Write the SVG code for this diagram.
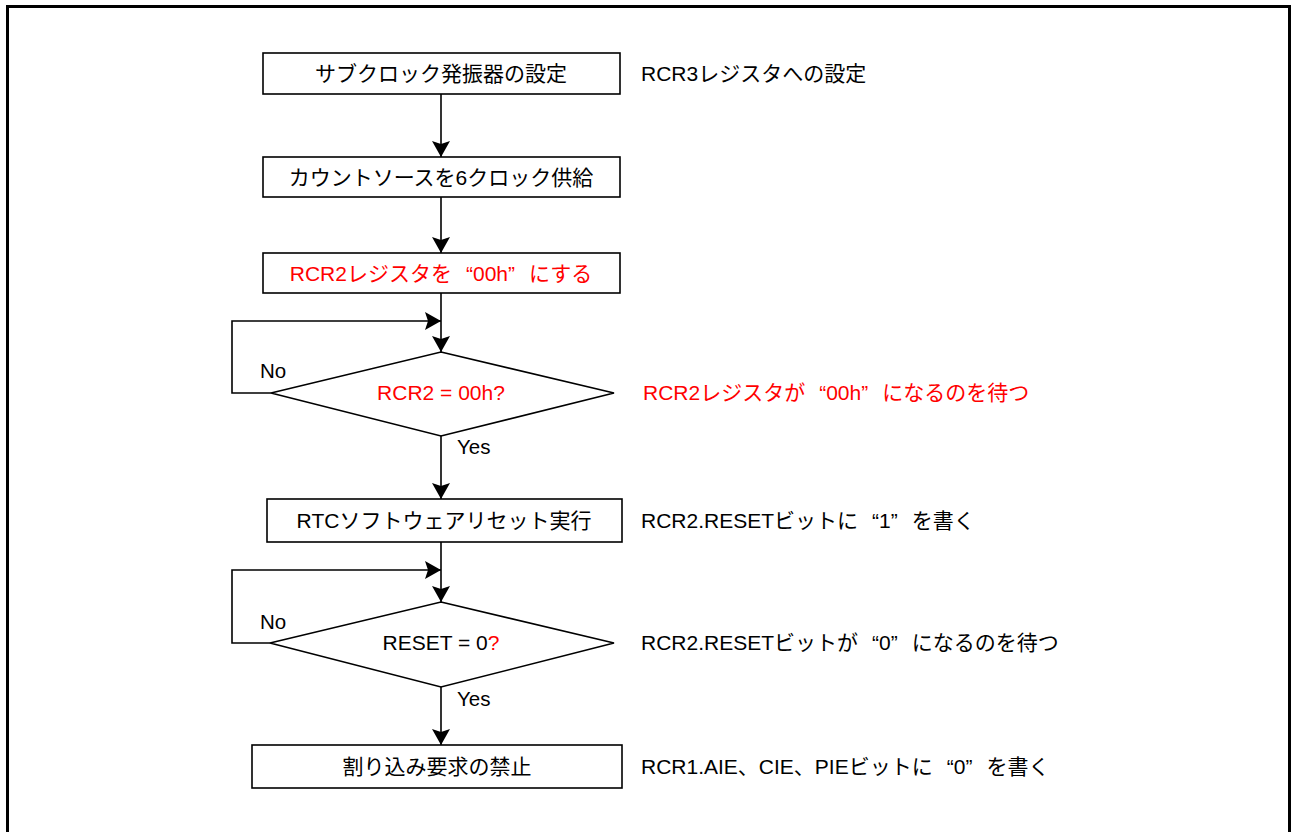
<svg xmlns="http://www.w3.org/2000/svg" width="1293" height="832" viewBox="0 0 1293 832">
<style>
text{font-family:"Liberation Sans","Noto Sans CJK JP",sans-serif;font-size:21px;fill:#000}
.c{text-anchor:middle}
.r{fill:#ff0000}
.box{fill:#fff;stroke:#000;stroke-width:1.6}
.ln{fill:none;stroke:#000;stroke-width:1.6}
.lbl{font-size:20.5px}
</style>
<defs>
<marker id="ah" viewBox="0 0 16 18" refX="16" refY="9" markerWidth="16" markerHeight="18" markerUnits="userSpaceOnUse" orient="auto">
<path d="M0,0 L16,9 L0,18 L3,9 Z" fill="#000"/>
</marker>
</defs>
<rect width="1293" height="832" fill="#fff"/>
<path d="M7.5,840 V6.5 H1289.5 V840" fill="none" stroke="#000" stroke-width="3"/>
<g id="connectors">
<line class="ln" x1="441" y1="94" x2="441" y2="157" marker-end="url(#ah)"/>
<line class="ln" x1="441" y1="197" x2="441" y2="253" marker-end="url(#ah)"/>
<line class="ln" x1="441" y1="293" x2="441" y2="352" marker-end="url(#ah)"/>
<path class="ln" d="M271,393 H232 V321 H441" marker-end="url(#ah)"/>
<line class="ln" x1="441" y1="436" x2="441" y2="499" marker-end="url(#ah)"/>
<line class="ln" x1="441" y1="542" x2="441" y2="602" marker-end="url(#ah)"/>
<path class="ln" d="M270,643 H232 V570 H441" marker-end="url(#ah)"/>
<line class="ln" x1="441" y1="687" x2="441" y2="745" marker-end="url(#ah)"/>
<text class="lbl" x="260" y="378">No</text>
<text class="lbl" x="457" y="454">Yes</text>
<text class="lbl" x="260" y="629">No</text>
<text class="lbl" x="457" y="706">Yes</text>
</g>
<g id="n1">
<rect class="box" x="263" y="53" width="357" height="41"/>
<text class="c" x="441" y="81">サブクロック発振器の設定</text>
<text x="641" y="81">RCR3レジスタへの設定</text>
</g>
<g id="n2">
<rect class="box" x="263" y="157" width="357" height="40"/>
<text class="c" x="441" y="185">カウントソースを6クロック供給</text>
</g>
<g id="n3">
<rect class="box" x="263" y="253" width="357" height="40"/>
<text class="c r" x="441" y="281">RCR2レジスタを<tspan dx="14">“</tspan>00h”<tspan dx="14">にする</tspan></text>
</g>
<g id="n4">
<polygon class="box" points="441,352 614,393 441,436 271,393"/>
<text class="c r" x="441" y="400">RCR2 = 00h?</text>
<text class="r" x="643" y="400">RCR2レジスタが<tspan dx="14">“</tspan>00h”<tspan dx="14">になるのを待つ</tspan></text>
</g>
<g id="n5">
<rect class="box" x="267" y="499" width="355" height="43"/>
<text class="c" x="444" y="528">RTCソフトウェアリセット実行</text>
<text x="641" y="528">RCR2.RESETビットに<tspan dx="14">“</tspan>1”<tspan dx="14">を書く</tspan></text>
</g>
<g id="n6">
<polygon class="box" points="441,602 614,643 441,687 270,643"/>
<text class="c" x="441" y="650">RESET = 0<tspan class="r">?</tspan></text>
<text x="641" y="650">RCR2.RESETビットが<tspan dx="14">“</tspan>0”<tspan dx="14">になるのを待つ</tspan></text>
</g>
<g id="n7">
<rect class="box" x="252" y="745" width="370" height="43"/>
<text class="c" x="437" y="774">割り込み要求の禁止</text>
<text x="641" y="774">RCR1.AIE、CIE、PIEビットに<tspan dx="14">“</tspan>0”<tspan dx="14">を書く</tspan></text>
</g>
</svg>
